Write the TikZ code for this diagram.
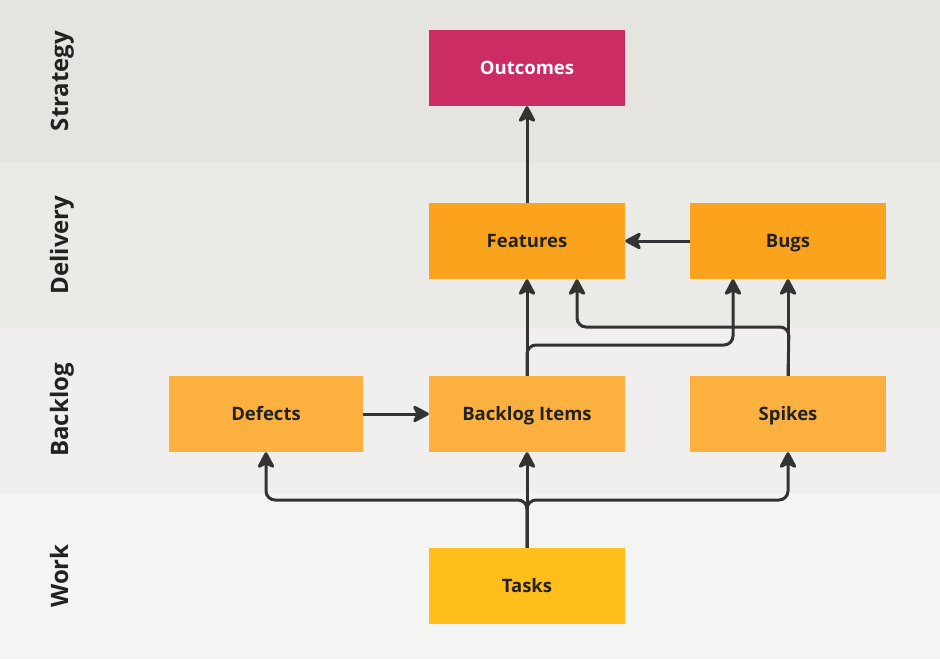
\documentclass[tikz,border=0pt]{standalone}
\usepackage{fontspec}
\setmainfont{Open Sans}
\usetikzlibrary{arrows.meta}
\definecolor{bandA}{HTML}{E5E4E0}
\definecolor{bandB}{HTML}{EAEAE6}
\definecolor{bandC}{HTML}{F0EFED}
\definecolor{bandD}{HTML}{F4F4F2}
\definecolor{outc}{HTML}{CC2C64}
\definecolor{deliv}{HTML}{FCA31E}
\definecolor{backl}{HTML}{FBB040}
\definecolor{task}{HTML}{FFBE1A}
\definecolor{ink}{HTML}{333333}
\definecolor{type}{HTML}{222222}
\tikzset{
  card/.style={minimum width=196pt,minimum height=76pt,inner sep=0pt,
    text height=17pt,text depth=4pt,
    font=\fontsize{18.5}{22}\selectfont\bfseries,text=type},
  lane/.style={rotate=90,text height=17pt,text depth=5pt,
    font=\fontsize{24}{28}\selectfont\bfseries,text=type},
  link/.style={draw=ink,line width=3pt,rounded corners=9pt,
    -{Stealth[length=19pt,width=20pt,inset=5pt,round]}}
}
\begin{document}
\begin{tikzpicture}[x=1pt,y=-1pt]
  \useasboundingbox (0,0) rectangle (940,659);
  % edit here for the bands
  \fill[bandA] (0,0) rectangle (940,162);
  \fill[bandB] (0,162) rectangle (940,328);
  \fill[bandC] (0,328) rectangle (940,493);
  \fill[bandD] (0,493) rectangle (940,659);
  \foreach \name/\y in {Strategy/81,Delivery/245,Backlog/410,Work/576} % edit here for the lane names
    \node[lane] (lane\name) at (62,\y) {\name};
  % cards
  \node[card,fill=outc,text=white] (outcomes) at (527,68) {Outcomes};
  \node[card,fill=deliv] (features) at (527,241) {Features};
  \node[card,fill=deliv] (bugs) at (788,241) {Bugs};
  \node[card,fill=backl,minimum width=194pt] (defects) at (266,414) {Defects};
  \node[card,fill=backl] (items) at (527,414) {Backlog Items};
  \node[card,fill=backl] (spikes) at (788,414) {Spikes};
  \node[card,fill=task] (tasks) at (527,586) {Tasks};
  % split points
  \coordinate (tasksplit) at (527,500);
  \coordinate (itemsplit) at (527,345);
  \coordinate (spikesplit) at (789,327);
  % links
  \draw[link] (features) -- (outcomes);
  \draw[link] (bugs) -- (features);
  \draw[link] (defects) -- (items);
  \draw[link] (items) -- (features);
  \draw[link] (spikes.north) -- (spikes.north |- bugs.south);
  \draw[link] (spikes.north) -- (spikesplit) -| ([xshift=50pt]features.south);
  \draw[link] (items.north) -- (itemsplit) -| ([xshift=-55pt]bugs.south);
  \draw[link] (tasks) -- (items);
  \draw[link] (tasks.north) -- (tasksplit) -| (defects.south);
  \draw[link] (tasks.north) -- (tasksplit) -| (spikes.south);
\end{tikzpicture}
\end{document}
